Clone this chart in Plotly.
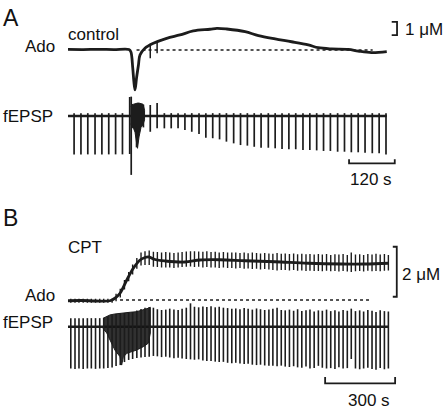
import plotly.graph_objects as go

W, H = 445, 411

# ================= DATA =================
# ---- Panel A (control) ----
# adenosine trace: time (s), concentration change (uM)
A_ado_t = [0, 40, 80, 120, 160, 165, 170, 173, 176, 180, 185, 189, 202, 224, 259, 294, 329,
           373, 391, 417, 465, 500, 544, 587, 631, 657, 692, 736, 762, 797, 837]
A_ado_c = [0.04, 0.03, 0.05, 0.03, 0.04, -0.13, -1.35, -2.38, -3.0, -2.1, -1.13, -0.38, 0.13,
           0.5, 0.88, 1.13, 1.43, 1.56, 1.63, 1.58, 1.38, 1.08, 0.83, 0.62, 0.38, 0.17, 0.08,
           0.05, -0.08, -0.2, -0.13]
A_ado_art_t = [216, 234]
A_ado_art_hi = [0.45, 0.55]
A_ado_art_lo = [-0.62, -0.25]

# fEPSP stimuli: time (s), downward amplitude (mV), upward artefact (mV)
A_stim_t = [16, 34, 52, 71, 89, 107, 125, 143, 162, 166, 180, 198,
            216, 234, 253, 271, 289, 307, 325, 344, 362, 380, 398, 416, 435, 453, 471, 489,
            507, 526, 544, 562, 580, 598, 617, 635, 653, 671, 689, 708, 726, 744, 762, 780,
            799, 817, 835]
A_stim_down = [2.02, 2.02, 2.02, 2.02, 2.02, 2.02, 2.02, 2.02, 2.0, 3.1, 1.65, 0.6,
               0.83, 0.65, 0.65, 0.65, 0.65, 0.74, 0.83, 0.95, 1.14, 1.17, 1.23, 1.35, 1.44,
               1.53, 1.56, 1.62, 1.67, 1.67, 1.70, 1.74, 1.75, 1.75, 1.79, 1.79, 1.81, 1.84,
               1.84, 1.88, 1.88, 1.91, 1.91, 1.93, 1.96, 1.96, 2.02]
A_stim_up = [0.15, 0.15, 0.15, 0.15, 0.15, 0.15, 0.15, 0.15, 1.0, 1.02, 0.6, 0.6,
             0.58, 0.68, 0.15, 0.15, 0.15, 0.15, 0.15, 0.15, 0.15, 0.15, 0.15, 0.15, 0.15,
             0.15, 0.15, 0.15, 0.15, 0.15, 0.15, 0.15, 0.15, 0.15, 0.15, 0.15, 0.15, 0.15,
             0.15, 0.15, 0.15, 0.15, 0.15, 0.15, 0.15, 0.15, 0.15]
# burst (spreading depolarisation) envelope
A_burst_t = [165, 168, 172, 176, 180, 182.5, 186.5, 191.7, 197, 201]
A_burst_top = [0.5, 0.6, 0.62, 0.65, 0.68, 0.68, 0.68, 0.66, 0.62, 0.3]
A_burst_bot = [-0.4, -0.6, -0.65, -0.85, -1.4, -1.7, -1.1, -0.6, -0.45, -0.2]
A_rec_end = 837

# ---- Panel B (CPT) ----
B_ado_t = [0, 60, 120, 180, 201, 223, 252, 280, 309, 330, 347, 373, 416, 501, 566, 651, 759,
           887, 1029, 1173, 1273, 1375]
B_ado_c = [-0.03, -0.02, -0.04, -0.03, 0.07, 0.27, 0.8, 1.27, 1.6, 1.7, 1.72, 1.62, 1.56,
           1.52, 1.6, 1.61, 1.57, 1.53, 1.47, 1.44, 1.44, 1.47]

B_stim_t = [12, 30, 47, 65, 83, 100, 118, 136, 153, 171,
            189, 206, 224, 242, 260, 277, 295, 313, 330, 348,
            366, 383, 401, 419, 436, 454, 472, 489, 507, 525,
            542, 560, 578, 595, 613, 631, 648, 666, 684, 702,
            719, 737, 755, 772, 790, 808, 825, 843, 861, 878,
            896, 914, 931, 949, 967, 984, 1002, 1020, 1037, 1055,
            1073, 1090, 1108, 1126, 1144, 1161, 1179, 1197, 1214, 1232,
            1250, 1267, 1285, 1303, 1320, 1338, 1356, 1373]
B_stim_down = [2.2, 2.22, 2.2, 2.22, 2.2, 2.2, 2.22, 2.2, 2.2, 2.17,
               2.15, 2.07, 2.02, 1.86, 1.75, 1.7, 1.65, 1.62, 1.6, 1.58,
               1.54, 1.56, 1.6, 1.58, 1.62, 1.66, 1.64, 1.68, 1.7, 1.72,
               1.74, 1.72, 1.78, 1.8, 1.8, 1.84, 1.86, 1.85, 1.9, 1.92,
               1.9, 1.94, 1.96, 1.95, 2.0, 2.02, 2.0, 2.04, 2.06, 2.05,
               2.08, 2.05, 2.1, 2.12, 2.08, 2.14, 2.16, 2.1, 2.2, 2.18,
               2.06, 2.16, 2.2, 2.18, 2.22, 2.14, 2.2, 2.18, 1.7, 2.2,
               2.24, 2.2, 2.16, 2.22, 2.26, 2.18, 2.24, 2.2]
B_stim_up = [0.45, 0.45, 0.45, 0.45, 0.45, 0.45, 0.45, 0.45, 0.46, 0.55,
             0.6, 0.67, 0.7, 0.72, 0.75, 0.77, 0.85, 0.93, 1.0, 1.04,
             1.0, 0.92, 0.88, 0.9, 0.95, 0.9, 0.88, 0.95, 1.0, 1.23,
             1.05, 1.02, 1.06, 1.04, 1.08, 1.02, 1.05, 1.0, 0.98, 0.95,
             0.96, 0.92, 0.98, 0.94, 0.9, 0.96, 0.92, 0.88, 0.9, 0.94,
             1.0, 0.88, 0.86, 0.9, 0.84, 0.92, 0.82, 0.86, 0.9, 0.8,
             0.86, 0.84, 0.9, 0.82, 0.86, 0.8, 0.88, 0.84, 0.95, 0.82,
             0.86, 0.8, 0.88, 0.84, 0.78, 0.86, 0.82, 0.8]
# stimulus artefacts seen on the adenosine trace (uM)
B_art_hi = [0.05, 0.05, 0.05, 0.05, 0.05, 0.05, 0.05, 0.05, 0.05, 0.05,
            0.05, 0.25, 0.45, 0.8, 1.12, 1.42, 1.68, 1.9, 1.95, 1.98,
            1.93, 1.92, 1.9, 1.92, 1.9, 1.88, 1.9, 1.92, 1.94, 1.95,
            1.95, 1.94, 1.93, 1.95, 1.92, 1.93, 1.9, 1.92, 1.9, 1.9,
            1.9, 1.88, 1.9, 1.87, 1.9, 1.88, 1.86, 1.88, 1.86, 1.85,
            1.88, 1.85, 1.86, 1.84, 1.86, 1.83, 1.85, 1.83, 1.84, 1.82,
            1.84, 1.82, 1.84, 1.8, 1.83, 1.82, 1.84, 1.8, 1.9, 1.82,
            1.83, 1.8, 1.84, 1.82, 1.85, 1.82, 1.84, 1.8]
B_art_lo = [-0.11, -0.11, -0.11, -0.11, -0.11, -0.11, -0.11, -0.11, -0.11, -0.11,
            -0.11, -0.05, 0.1, 0.42, 0.75, 1.02, 1.25, 1.38, 1.4, 1.4,
            1.33, 1.32, 1.3, 1.3, 1.3, 1.28, 1.3, 1.32, 1.33, 1.34,
            1.32, 1.33, 1.3, 1.32, 1.3, 1.3, 1.28, 1.3, 1.28, 1.28,
            1.26, 1.28, 1.25, 1.26, 1.24, 1.25, 1.22, 1.24, 1.22, 1.2,
            1.18, 1.2, 1.2, 1.18, 1.2, 1.17, 1.18, 1.16, 1.17, 1.16,
            1.16, 1.15, 1.17, 1.15, 1.16, 1.14, 1.16, 1.14, 1.12, 1.15,
            1.16, 1.14, 1.17, 1.15, 1.16, 1.15, 1.17, 1.18]
B_burst_t = [150, 166, 180, 201, 223, 230, 237, 252, 266, 294, 323, 344, 353]
B_burst_top = [0.44, 0.55, 0.62, 0.67, 0.71, 0.72, 0.73, 0.74, 0.76, 0.79, 0.88, 0.97, 1.02]
B_burst_bot = [-0.1, -0.33, -0.7, -1.23, -1.58, -2.02, -1.6, -1.4, -1.35, -1.23, -1.05, -0.87, -0.33]
B_rec_end = 1375

# scale bars
A_TBAR, A_CBAR = 120, 1   # s, uM
B_TBAR, B_CBAR = 300, 2   # s, uM

# ================= LAYOUT CONSTANTS (pixels) =================
A_X0, A_KX = 68, 45.7 / 120        # px of t=0, px per s
B_X0, B_KX = 68, 70.0 / 300
A_ADO_Y0, A_ADO_K = 50, 13.3       # baseline px, px per uM
A_EP_Y0, A_EP_K = 116, 19.0        # px per mV
B_ADO_Y0, B_ADO_K = 300, 25.0
B_EP_Y0, B_EP_K = 326.7, 19.0

INK = "#1c1c1c"
FONT = "Arial, Liberation Sans, Helvetica, sans-serif"


def xr(x0, k):
    return [(0 - x0) / k, (W - x0) / k]


def yr(y0, k):
    return [(y0 - H) / k, y0 / k]


def segs(ts, lo, hi):
    xs, ys = [], []
    for t, a, b in zip(ts, lo, hi):
        xs += [t, t, None]
        ys += [a, b, None]
    return xs, ys


fig = go.Figure()


def add(x, y, xa, ya, width=2, dash=None, shape="linear", fill=None, color=INK, fillcolor=None):
    fig.add_trace(go.Scatter(
        x=x, y=y, xaxis=xa, yaxis=ya, mode="lines",
        line=dict(color=color, width=width, dash=dash, shape=shape),
        fill=fill, fillcolor=(fillcolor or color) if fill else None,
        hoverinfo="skip", showlegend=False))


# ---- Panel A ----
add([180, 800], [0, 0], "x", "y", width=1.4, dash="3px,3px")
add(A_ado_t, A_ado_c, "x", "y", width=2.8, shape="spline")
xs, ys = segs(A_ado_art_t, A_ado_art_lo, A_ado_art_hi)
add(xs, ys, "x", "y", width=1.5)

add([0, A_rec_end], [0, 0], "x", "y2", width=2.6)
xs, ys = segs(A_stim_t, [-d for d in A_stim_down], A_stim_up)
add(xs, ys, "x", "y2", width=1.7)
add(A_burst_t + A_burst_t[::-1], A_burst_top + A_burst_bot[::-1], "x", "y2",
    width=1, fill="toself")

# A scale bars
tb0, tby, tick = 738, -2.49, 0.22
add([tb0, tb0, tb0 + A_TBAR, tb0 + A_TBAR], [tby + tick, tby, tby, tby + tick], "x", "y2", width=1.8)
cx, cy0, ctk = 864, 1.12, 14
add([cx - ctk, cx, cx, cx - ctk], [cy0 + A_CBAR, cy0 + A_CBAR, cy0, cy0], "x", "y", width=1.8)

# ---- Panel B ----
add([223, 1303], [0, 0], "x2", "y3", width=1.4, dash="3px,3px")
xs, ys = segs(B_stim_t, B_art_lo, B_art_hi)
add(xs, ys, "x2", "y3", width=1.4)
add(B_ado_t, B_ado_c, "x2", "y3", width=2.8, shape="spline")

add([0, B_rec_end], [0, 0], "x2", "y4", width=2.6)
add(B_burst_t + B_burst_t[::-1], B_burst_top + B_burst_bot[::-1], "x2", "y4",
    width=1, fill="toself", fillcolor="rgba(20,20,20,0.88)")
xs, ys = segs(B_stim_t, [-d for d in B_stim_down], B_stim_up)
add(xs, ys, "x2", "y4", width=1.6)

tb0, tby, tick = 1102, -2.98, 0.33
add([tb0, tb0, tb0 + B_TBAR, tb0 + B_TBAR], [tby + tick, tby, tby, tby + tick], "x2", "y4", width=1.8)
cx, cy0, ctk = 1409, 0.13, 17
add([cx - ctk, cx, cx, cx - ctk], [cy0 + B_CBAR, cy0 + B_CBAR, cy0, cy0], "x2", "y3", width=1.8)

# ---- text ----
def ann(text, px, py, size=17):
    fig.add_annotation(text=text, x=px / W, y=1 - py / H, xref="paper", yref="paper",
                       xanchor="left", yanchor="middle", showarrow=False,
                       font=dict(family=FONT, size=size, color="#111"), borderpad=0)


ann("A", 2, 17.5, 23)
ann("control", 67, 34)
ann("Ado", 24, 47)
ann("fEPSP", 2, 116.5)
ann("1 μM", 404, 29)
ann("120 s", 349, 179)
ann("B", 2, 218, 23)
ann("CPT", 67, 247)
ann("Ado", 24, 295.7)
ann("fEPSP", 2, 322)
ann("2 μM", 401, 274)
ann("300 s", 347, 400.5)

ax = dict(visible=False, showgrid=False, zeroline=False, fixedrange=True)
fig.update_layout(
    width=W, height=H, autosize=False,
    margin=dict(l=0, r=0, t=0, b=0, pad=0),
    paper_bgcolor="white", plot_bgcolor="white",
    xaxis=dict(ax, range=xr(A_X0, A_KX), domain=[0, 1]),
    xaxis2=dict(ax, range=xr(B_X0, B_KX), overlaying="x", anchor="y3"),
    yaxis=dict(ax, range=yr(A_ADO_Y0, A_ADO_K), domain=[0, 1]),
    yaxis2=dict(ax, range=yr(A_EP_Y0, A_EP_K), overlaying="y", anchor="x"),
    yaxis3=dict(ax, range=yr(B_ADO_Y0, B_ADO_K), overlaying="y", anchor="x2"),
    yaxis4=dict(ax, range=yr(B_EP_Y0, B_EP_K), overlaying="y", anchor="x2"),
)

fig.write_html("out.html", config={"displayModeBar": False},
               post_script="document.body.style.margin='0';document.body.style.padding='0';")
